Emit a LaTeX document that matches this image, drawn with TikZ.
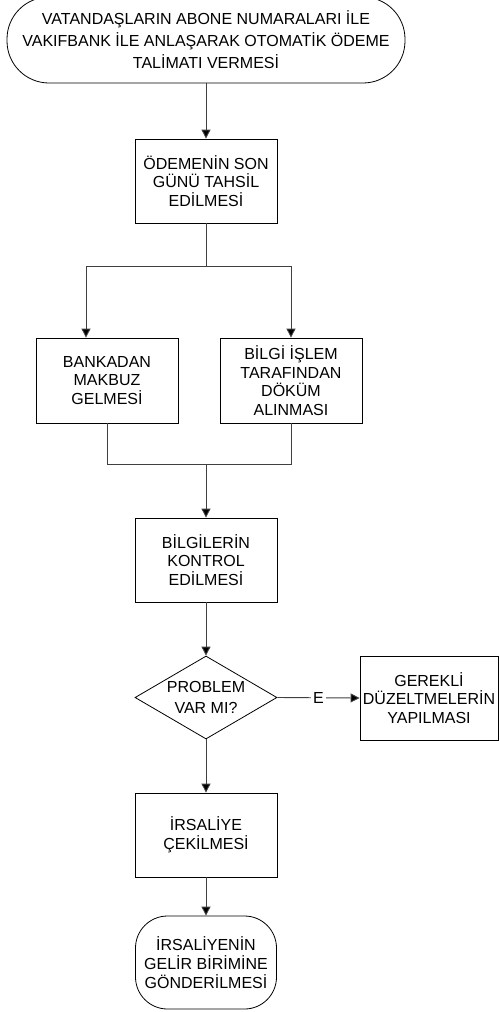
\documentclass[tikz,border=0pt]{standalone}
\usepackage{fontspec}
\setmainfont{Liberation Sans}
\usetikzlibrary{shapes.geometric,arrows.meta}
\begin{document}
\begin{tikzpicture}[x=1pt,y=-1pt,
  every node/.style={font=\fontsize{16}{18.7}\selectfont, align=center},
  boxnode/.style={draw=black, line width=0.8pt, minimum width=142pt, minimum height=84pt, inner sep=0pt},
  conn/.style={draw=black!75, line width=0.9pt},
  arr/.style={conn, -{Triangle[length=9pt,width=9pt,fill=black]}}]
\useasboundingbox (0,0) rectangle (499,1012);
\node[draw=black, line width=0.8pt, rounded corners=42pt, minimum width=398pt, minimum height=86pt, inner sep=0pt,
  font=\fontsize{16}{22}\selectfont] (start) at (206,40)
  {VATANDAŞLARIN ABONE NUMARALARI İLE\\VAKIFBANK İLE ANLAŞARAK OTOMATİK ÖDEME\\TALİMATI VERMESİ};
\node[boxnode] (b2) at (206,181) {ÖDEMENİN SON\\GÜNÜ TAHSİL\\EDİLMESİ};
\node[boxnode, minimum height=85pt] (b3) at (107,380.5) {BANKADAN\\MAKBUZ\\GELMESİ};
\node[boxnode, minimum height=85pt] (b4) at (291,380.5) {BİLGİ İŞLEM\\TARAFINDAN\\DÖKÜM\\ALINMASI};
\node[boxnode] (b5) at (206,560) {BİLGİLERİN\\KONTROL\\EDİLMESİ};
\node[diamond, draw=black, line width=0.8pt, minimum width=142pt, minimum height=83pt, inner sep=0pt,
  label={[align=center, font=\fontsize{16}{21}\selectfont]center:PROBLEM\\VAR MI?}] (d) at (206,697.5) {};
\node[boxnode, minimum width=138pt] (b6) at (429,698) {GEREKLİ\\DÜZELTMELERİN\\YAPILMASI};
\node[boxnode] (b7) at (206,835) {İRSALİYE\\ÇEKİLMESİ};
\node[draw=black, line width=0.8pt, rounded corners=32pt, minimum width=141pt, minimum height=93pt, inner sep=0pt] (end) at (206,962.5)
  {İRSALİYENİN\\GELİR BİRİMİNE\\GÖNDERİLMESİ};
\coordinate (split) at (206,266);
\coordinate (sl) at (86,266);
\coordinate (merge) at (206,464);
\draw[arr] (start) -- (b2);
\draw[conn] (b2.south) -- (split);
\draw[arr] (split) -| (b4.north);
\draw[arr] (split) -- (sl) -- (sl |- b3.north);
\draw[conn] (b3.south) |- (merge);
\draw[conn] (b4.south) |- (merge);
\draw[arr] (merge) -- (b5.north);
\draw[arr] (b5.south) -- (d.north);
\draw[arr] (d.east) -- node[fill=white, inner sep=2pt] {E} (b6.west);
\draw[arr] (d.south) -- (b7.north);
\draw[arr] (b7.south) -- (end.north);
\end{tikzpicture}
\end{document}
